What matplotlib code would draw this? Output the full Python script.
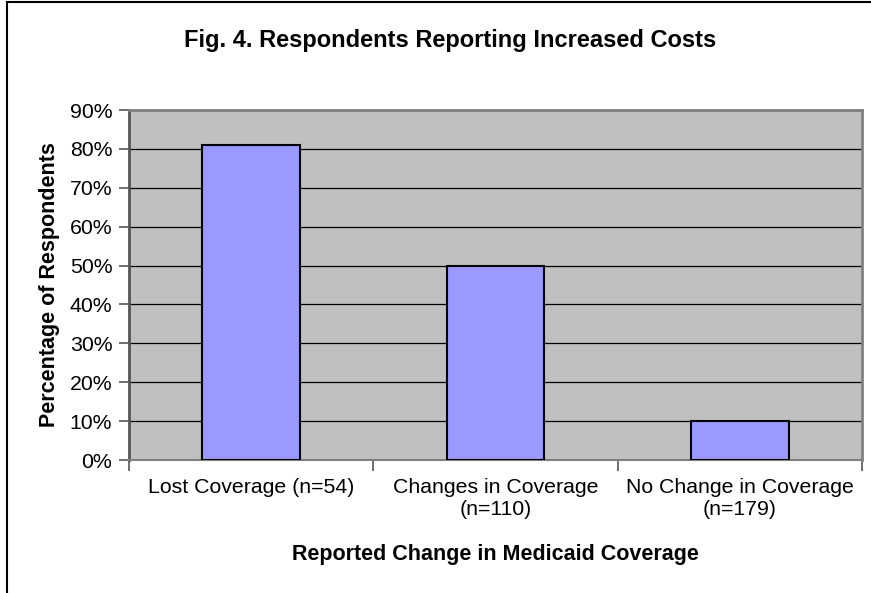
import matplotlib
matplotlib.use('Agg')
import matplotlib.pyplot as plt
import matplotlib.patches as patches
from matplotlib.ticker import FixedLocator, FuncFormatter

categories = ['Lost Coverage (n=54)', 'Changes in Coverage\n(n=110)', 'No Change in Coverage\n(n=179)']
values = [81, 50, 10]
y_ticks = [0, 10, 20, 30, 40, 50, 60, 70, 80, 90]

plt.rcParams['font.family'] = ['Liberation Sans', 'DejaVu Sans']

fig = plt.figure(figsize=(8.71, 5.93), dpi=100)
ax = fig.add_axes([129 / 871, 133 / 593, 733 / 871, 350 / 593])

# Outer chart frame (right and bottom edges fall outside the image)
frame = patches.Rectangle((7 / 871, -0.05), 1.2, 1.05 - 1.5 / 593, transform=fig.transFigure,
                          fill=False, edgecolor='black', lw=1.5, clip_on=False)
fig.patches.append(frame)

ax.set_facecolor('#C0C0C0')
x = range(len(categories))
ax.bar(x, values, width=0.4, color='#9999FF', edgecolor='black', lw=1.5, zorder=3)

ax.set_xlim(-0.5, 2.5)
ax.set_ylim(0, 90)
ax.set_yticks(y_ticks)
ax.yaxis.set_major_formatter(FuncFormatter(lambda v, p: f'{int(v)}%'))
ax.grid(axis='y', color='black', lw=0.9, zorder=1)
ax.set_axisbelow(True)

ax.set_xticks(list(x))
ax.set_xticklabels(categories, fontsize=15.3)
ax.xaxis.set_minor_locator(FixedLocator([-0.5, 0.5, 1.5, 2.5]))
ax.tick_params(axis='x', which='major', length=0, pad=13)
ax.tick_params(axis='x', which='minor', length=8, width=1.2, color='#555555', direction='out')
ax.tick_params(axis='y', length=7, width=1.2, color='#555555', labelsize=15.3, pad=5)

for side in ['top', 'right']:
    ax.spines[side].set_color('#808080')
    ax.spines[side].set_linewidth(2)
ax.spines['left'].set_color('#555555')
ax.spines['left'].set_linewidth(2)
ax.spines['bottom'].set_color('#808080')
ax.spines['bottom'].set_linewidth(1.5)

ax.set_ylabel('Percentage of Respondents', fontsize=15.5, weight='bold', labelpad=7)
ax.set_xlabel('Reported Change in Medicaid Coverage', fontsize=15.5, weight='bold', labelpad=18)

fig.text(450 / 871, 1 - 41 / 593, 'Fig. 4. Respondents Reporting Increased Costs',
         fontsize=17, weight='bold', ha='center', va='center')

fig.savefig('out.png', dpi=100)
plt.close(fig)
